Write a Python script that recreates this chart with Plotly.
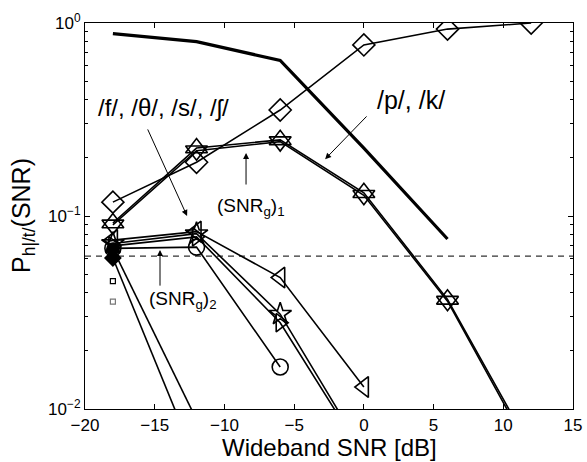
import numpy as np
import plotly.graph_objects as go

FONT = "Liberation Sans, Arial, Helvetica, sans-serif"

# ---------------- data ----------------
snr_full = [-18, -12, -6, 0, 6, 12]
snr_5 = [-18, -12, -6, 0, 6]
snr_4 = [-18, -12, -6, 0]
snr_3 = [-18, -12, -6]
snr_2 = [-18, -12]

# thick reference curve (no markers)
thick_vals = [0.88, 0.80, 0.64, 0.225, 0.076]
# diamonds
diamond_vals = [0.118, 0.19, 0.354, 0.77, 0.93, 1.0]
# /p/, /k/
tri_up_vals = [0.092, 0.225, 0.248, 0.132, 0.037, 0.0062]
tri_down_vals = [0.090, 0.218, 0.243, 0.128, 0.0362, 0.0059]
# /f/, /θ/, /s/, /ʃ/
tri_left_vals = [0.075, 0.083, 0.048, 0.013]
star_vals = [0.072, 0.081, 0.031, 0.0059]
tri_right_vals = [0.070, 0.078, 0.028, 0.0057]
circle_vals = [0.068, 0.069, 0.0165]
# steep curves
steep1_vals = [0.0606, 0.0053]
steep2_vals = [0.0675, 0.0088]
# isolated small squares
square_x = [-18]
square1_vals = [0.046]
square2_vals = [0.036]

threshold = 0.062
x_range = [-20, 15]
x_ticks = [-20, -15, -10, -5, 0, 5, 10, 15]
y_ticks = [1, 0.1, 0.01]
y_ticktext = ["10<sup>0</sup>", "10<sup>\u22121</sup>", "10<sup>\u22122</sup>"]
y_minor = [k * 10.0 ** e for e in (-2, -1) for k in range(2, 10)]

fig = go.Figure()

def line(x, y, width=1.6, symbol=None, size=14, color="black"):
    mode = "lines+markers" if symbol else "lines"
    marker = dict(symbol=symbol, size=size, color=color,
                  line=dict(color=color, width=1.6)) if symbol else None
    fig.add_trace(go.Scatter(x=x, y=y, mode=mode, cliponaxis=True,
                             line=dict(color="black", width=width),
                             marker=marker, showlegend=False))

# dashed threshold
fig.add_trace(go.Scatter(x=x_range, y=[threshold, threshold], mode="lines",
                         line=dict(color="#333", width=1.2, dash="6px,5px"),
                         showlegend=False))

line(snr_5, thick_vals, width=3.2)
line(snr_full, diamond_vals, symbol="diamond-open", size=17)
line(snr_full, tri_up_vals, symbol="triangle-up-open", size=19)
line(snr_full, tri_down_vals, symbol="triangle-down-open", size=19)
line(snr_4, tri_left_vals, symbol="triangle-left-open", size=18)
line(snr_4, star_vals, symbol="star-open", size=17)
line(snr_4, tri_right_vals, symbol="triangle-right-open", size=16)
line(snr_3, circle_vals, symbol="circle-open", size=16)
line(snr_2, steep1_vals, symbol="diamond", size=12)
line(snr_2, steep2_vals, symbol="circle", size=12)

fig.add_trace(go.Scatter(x=square_x, y=square1_vals, mode="markers",
                         marker=dict(symbol="square-open", size=5, color="black",
                                     line=dict(color="black", width=1.2)),
                         showlegend=False))
fig.add_trace(go.Scatter(x=square_x, y=square2_vals, mode="markers",
                         marker=dict(symbol="square-open", size=5, color="#777",
                                     line=dict(color="#777", width=1.2)),
                         showlegend=False))

L = np.log10

def arrow(x, y, ax, ay):
    fig.add_annotation(x=x, y=L(y), ax=ax, ay=L(ay), xref="x", yref="y",
                       axref="x", ayref="y", text="", showarrow=True,
                       arrowhead=2, arrowsize=1.2, arrowwidth=1,
                       arrowcolor="black")

def label(x, y, text, size):
    fig.add_annotation(x=x, y=L(y), xref="x", yref="y", text=text,
                       showarrow=False, font=dict(family=FONT, size=size,
                                                  color="black"))

label(-14.4, 0.363, "/f/, /\u03b8/, /s/, /\u0283/", 24)
arrow(-12.68, 0.1, -15.55, 0.286)
label(3.39, 0.40, "/p/, /k/", 25)
arrow(-2.78, 0.197, 0.30, 0.334)
label(-8.1, 0.112, "(SNR<sub>g</sub>)<sub>1</sub>", 19)
arrow(-8.45, 0.212, -8.45, 0.143)
label(-13.0, 0.0365, "(SNR<sub>g</sub>)<sub>2</sub>", 19)
arrow(-14.62, 0.0667, -14.62, 0.0428)

# axis titles
fig.add_annotation(x=0.5, y=0, xref="paper", yref="paper", yanchor="middle",
                   yshift=-38, text="Wideband SNR [dB]", showarrow=False,
                   font=dict(family=FONT, size=24, color="black"))
fig.add_annotation(x=0, y=0.5, xref="paper", yref="paper", xanchor="center",
                   xshift=-62, textangle=-90, text="P<sub>h|/t/</sub>(SNR)",
                   showarrow=False, font=dict(family=FONT, size=25, color="black"))

fig.update_layout(
    width=587, height=462,
    margin=dict(l=85, r=14, t=23, b=53),
    paper_bgcolor="white", plot_bgcolor="white",
    font=dict(family=FONT, size=17, color="black"),
    showlegend=False,
)
fig.update_xaxes(
    range=x_range, tickvals=x_ticks, automargin=False,
    ticktext=[str(v).replace("-", "\u2212") for v in x_ticks],
    showgrid=False, zeroline=False,
    showline=True, linecolor="black", linewidth=1.2, mirror="ticks",
    ticks="inside", ticklen=5, tickcolor="black",
)
fig.update_yaxes(
    type="log", range=[-2, 0], tickvals=y_ticks, ticktext=y_ticktext,
    automargin=False,
    showgrid=False, zeroline=False,
    showline=True, linecolor="black", linewidth=1.2, mirror="ticks",
    ticks="inside", ticklen=5, tickcolor="black",
    minor=dict(tickvals=y_minor, ticks="inside", ticklen=3, tickcolor="black"),
)

fig.write_html("out.html", config={"displayModeBar": False},
               post_script="document.body.style.margin='0';"
                           "document.body.style.overflow='hidden';")
